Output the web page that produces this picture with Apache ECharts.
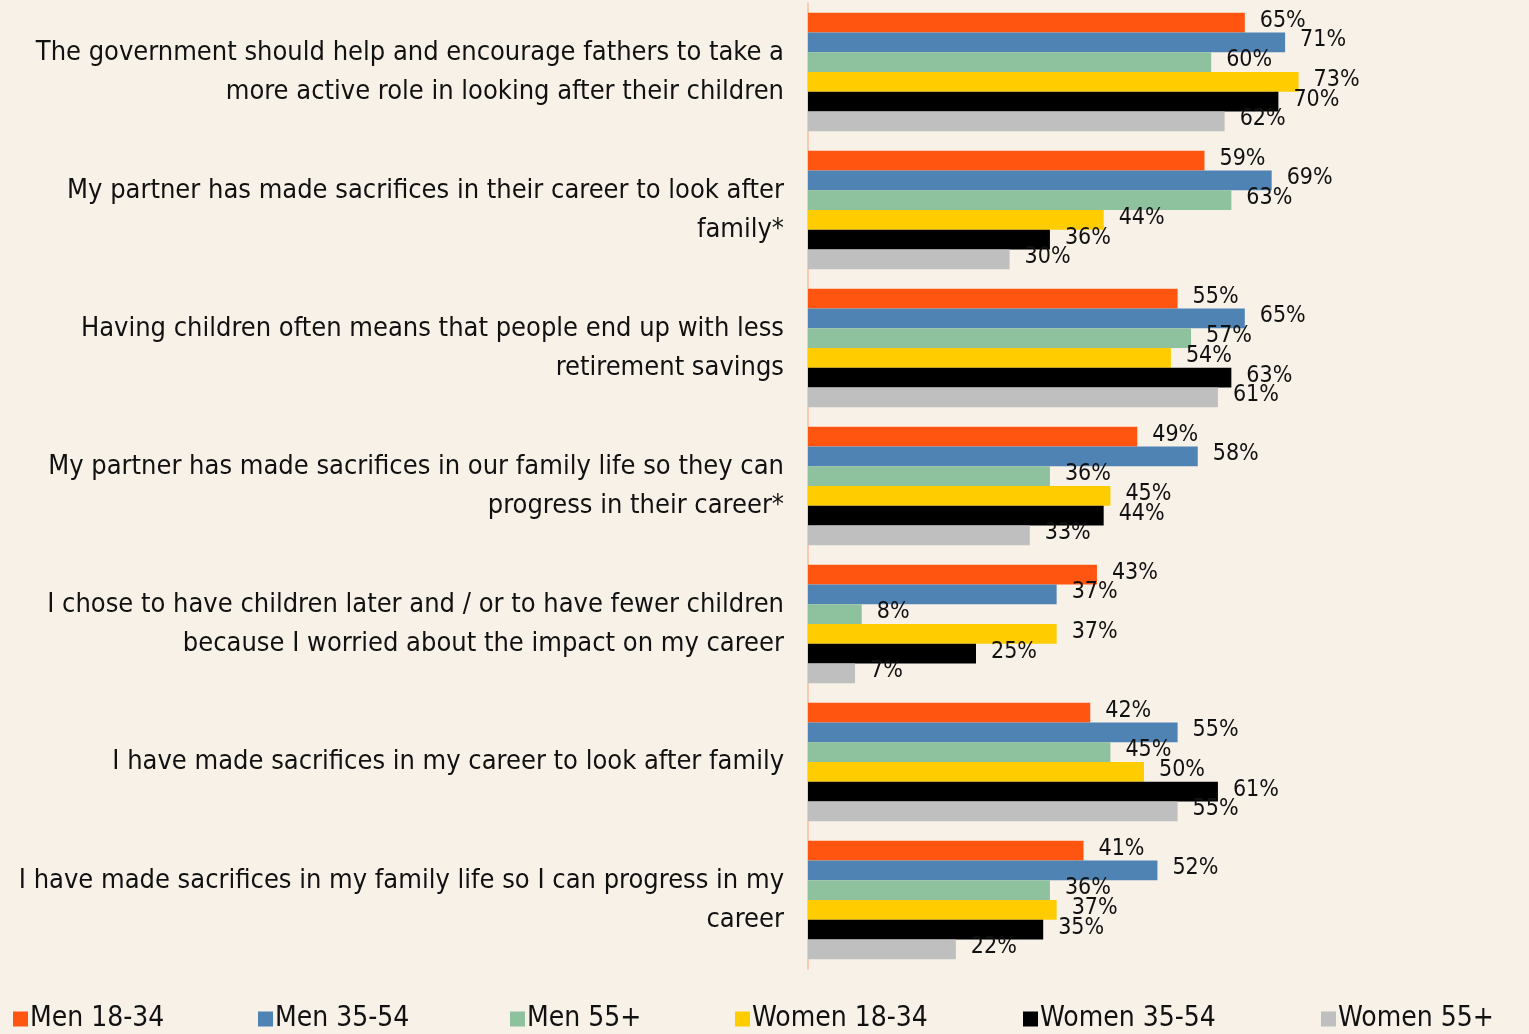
<!DOCTYPE html>
<html>
<head>
<meta charset="utf-8">
<script src="https://cdn.jsdelivr.net/npm/echarts@6/dist/echarts.min.js"></script>
<style>
html,body{margin:0;padding:0;background:#F8F1E8;}
#chart{width:1529px;height:1034px;}
</style>
</head>
<body>
<div id="chart"></div>
<script>
const categories = [
  "The government should help and encourage fathers to take a\nmore active role in looking after their children",
  "My partner has made sacrifices in their career to look after\nfamily*",
  "Having children often means that people end up with less\nretirement savings",
  "My partner has made sacrifices in our family life so they can\nprogress in their career*",
  "I chose to have children later and / or to have fewer children\nbecause I worried about the impact on my career",
  "I have made sacrifices in my career to look after family",
  "I have made sacrifices in my family life so I can progress in my\ncareer"
];
const seriesNames = ["Men 18-34","Men 35-54","Men 55+","Women 18-34","Women 35-54","Women 55+"];
const men1834   = [65,59,55,49,43,42,41];
const men3554   = [71,69,65,58,37,55,52];
const men55     = [60,63,57,36,8,45,36];
const women1834 = [73,44,54,45,37,50,37];
const women3554 = [70,36,63,44,25,61,35];
const women55   = [62,30,61,33,7,55,22];
const colors = ["#FF5510","#4F83B3","#8EC19E","#FFCC00","#000000","#BFBFBF"];

const FONT = "'Liberation Sans Narrow','DejaVu Sans Condensed','Liberation Sans',sans-serif";
const values = [men1834, men3554, men55, women1834, women3554, women55];
const legendLeft = [8, 253, 505, 730, 1018, 1316];

const chart = echarts.init(document.getElementById('chart'));
chart.setOption({
  backgroundColor: '#F8F1E8',
  animation: false,
  textStyle: {fontFamily: FONT},
  grid: {left: 808, right: 49, top: 3, bottom: 65, containLabel: false},
  xAxis: {type: 'value', min: 0, max: 100, show: false},
  yAxis: {
    type: 'category', data: categories, inverse: true,
    axisLine: {show: true, lineStyle: {color: '#F7BFA0', width: 1.5}},
    axisTick: {show: false},
    axisLabel: {fontFamily: FONT, fontSize: 27, color: '#111', lineHeight: 39, align: 'right', margin: 24, padding: [0,0,14,0]}
  },
  legend: seriesNames.map((n, i) => ({
    data: [n], left: legendLeft[i], bottom: -4, itemWidth: 15, itemHeight: 15, itemGap: 0,
    textStyle: {fontFamily: FONT, fontSize: 28, color: '#111', padding: [0,0,0,-3]}, icon: 'rect'
  })),
  series: seriesNames.map((n, i) => ({
    name: n, type: 'bar', data: values[i], barGap: '0%', barCategoryGap: '14%',
    itemStyle: {color: colors[i]},
    label: {show: true, position: 'right', distance: 15, formatter: '{c}%', fontFamily: FONT, fontSize: 23, color: '#111', offset: [0,-2]}
  }))
});
</script>
</body>
</html>
